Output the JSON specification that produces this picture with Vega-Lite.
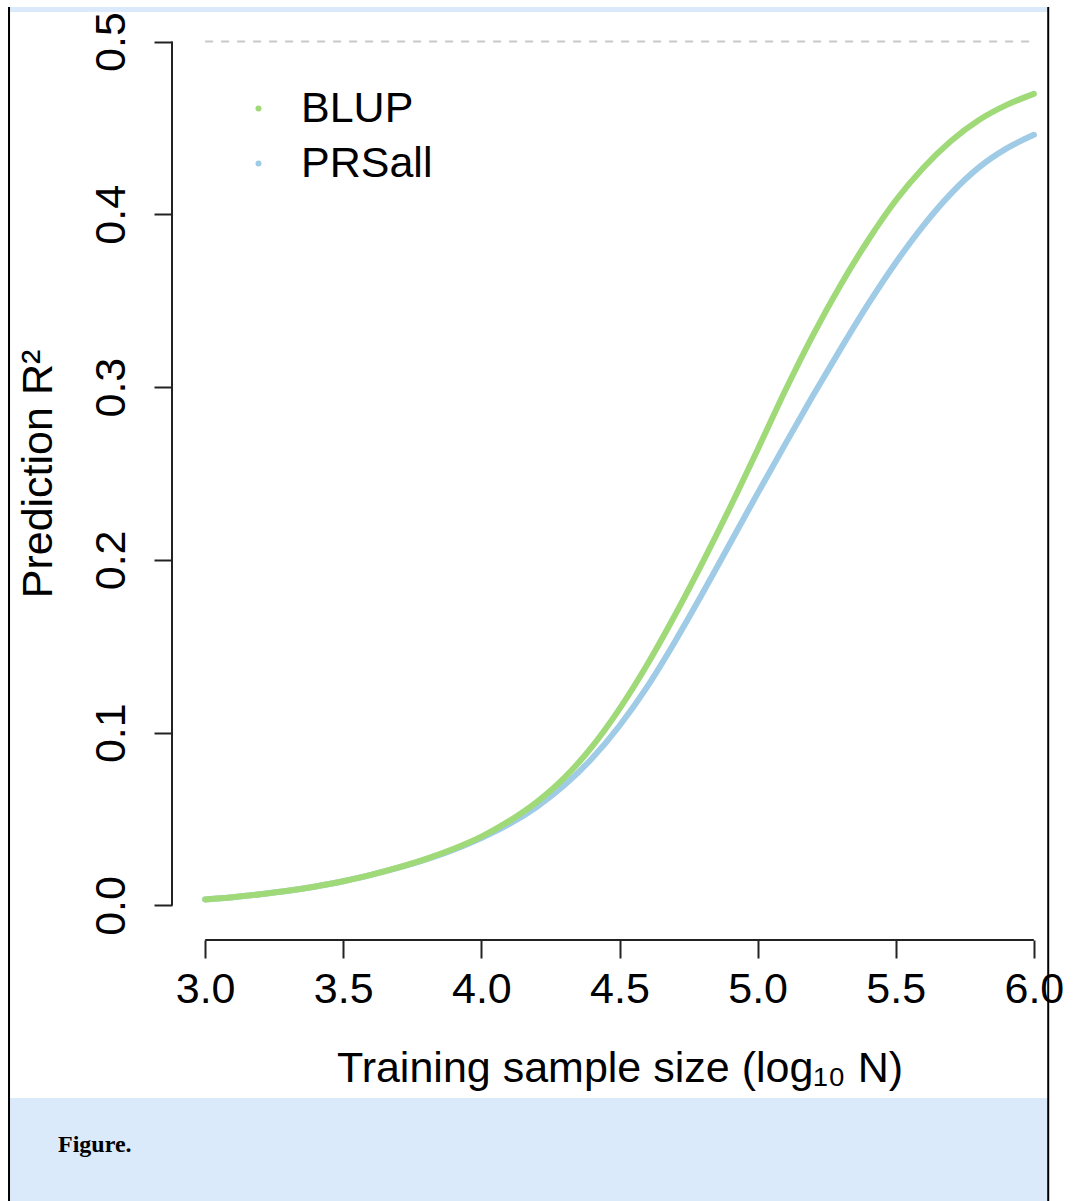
{
  "$schema": "https://vega.github.io/schema/vega-lite/v6.json",
  "width": 895,
  "height": 933,
  "autosize": {"type": "none"},
  "padding": {"left": 172, "top": 7, "right": 7, "bottom": 261},
  "background": "white",
  "config": {"view": {"stroke": null}, "font": "Liberation Sans"},
  "datasets": {
    "curves": [
      {"x": 3.0, "r2": 0.0035, "series": "PRSall"},
      {"x": 3.1, "r2": 0.0048, "series": "PRSall"},
      {"x": 3.2, "r2": 0.0065, "series": "PRSall"},
      {"x": 3.3, "r2": 0.0085, "series": "PRSall"},
      {"x": 3.4, "r2": 0.011, "series": "PRSall"},
      {"x": 3.5, "r2": 0.014, "series": "PRSall"},
      {"x": 3.6, "r2": 0.0177, "series": "PRSall"},
      {"x": 3.7, "r2": 0.0219, "series": "PRSall"},
      {"x": 3.8, "r2": 0.0267, "series": "PRSall"},
      {"x": 3.9, "r2": 0.0323, "series": "PRSall"},
      {"x": 4.0, "r2": 0.039, "series": "PRSall"},
      {"x": 4.1, "r2": 0.047, "series": "PRSall"},
      {"x": 4.2, "r2": 0.057, "series": "PRSall"},
      {"x": 4.3, "r2": 0.0695, "series": "PRSall"},
      {"x": 4.4, "r2": 0.085, "series": "PRSall"},
      {"x": 4.5, "r2": 0.104, "series": "PRSall"},
      {"x": 4.6, "r2": 0.1265, "series": "PRSall"},
      {"x": 4.7, "r2": 0.1525, "series": "PRSall"},
      {"x": 4.8, "r2": 0.1805, "series": "PRSall"},
      {"x": 4.9, "r2": 0.2095, "series": "PRSall"},
      {"x": 5.0, "r2": 0.2385, "series": "PRSall"},
      {"x": 5.1, "r2": 0.267, "series": "PRSall"},
      {"x": 5.2, "r2": 0.295, "series": "PRSall"},
      {"x": 5.3, "r2": 0.322, "series": "PRSall"},
      {"x": 5.4, "r2": 0.348, "series": "PRSall"},
      {"x": 5.5, "r2": 0.372, "series": "PRSall"},
      {"x": 5.6, "r2": 0.3935, "series": "PRSall"},
      {"x": 5.7, "r2": 0.412, "series": "PRSall"},
      {"x": 5.8, "r2": 0.427, "series": "PRSall"},
      {"x": 5.9, "r2": 0.438, "series": "PRSall"},
      {"x": 6.0, "r2": 0.446, "series": "PRSall"},
      {"x": 3.0, "r2": 0.0035, "series": "BLUP"},
      {"x": 3.1, "r2": 0.0048, "series": "BLUP"},
      {"x": 3.2, "r2": 0.0065, "series": "BLUP"},
      {"x": 3.3, "r2": 0.0085, "series": "BLUP"},
      {"x": 3.4, "r2": 0.011, "series": "BLUP"},
      {"x": 3.5, "r2": 0.014, "series": "BLUP"},
      {"x": 3.6, "r2": 0.0177, "series": "BLUP"},
      {"x": 3.7, "r2": 0.022, "series": "BLUP"},
      {"x": 3.8, "r2": 0.027, "series": "BLUP"},
      {"x": 3.9, "r2": 0.0328, "series": "BLUP"},
      {"x": 4.0, "r2": 0.0398, "series": "BLUP"},
      {"x": 4.1, "r2": 0.0488, "series": "BLUP"},
      {"x": 4.2, "r2": 0.0598, "series": "BLUP"},
      {"x": 4.3, "r2": 0.0738, "series": "BLUP"},
      {"x": 4.4, "r2": 0.0918, "series": "BLUP"},
      {"x": 4.5, "r2": 0.1138, "series": "BLUP"},
      {"x": 4.6, "r2": 0.1393, "series": "BLUP"},
      {"x": 4.7, "r2": 0.1678, "series": "BLUP"},
      {"x": 4.8, "r2": 0.1983, "series": "BLUP"},
      {"x": 4.9, "r2": 0.2303, "series": "BLUP"},
      {"x": 5.0, "r2": 0.2638, "series": "BLUP"},
      {"x": 5.1, "r2": 0.298, "series": "BLUP"},
      {"x": 5.2, "r2": 0.330, "series": "BLUP"},
      {"x": 5.3, "r2": 0.359, "series": "BLUP"},
      {"x": 5.4, "r2": 0.385, "series": "BLUP"},
      {"x": 5.5, "r2": 0.408, "series": "BLUP"},
      {"x": 5.6, "r2": 0.427, "series": "BLUP"},
      {"x": 5.7, "r2": 0.4425, "series": "BLUP"},
      {"x": 5.8, "r2": 0.4545, "series": "BLUP"},
      {"x": 5.9, "r2": 0.4632, "series": "BLUP"},
      {"x": 6.0, "r2": 0.4697, "series": "BLUP"}
    ]
  },
  "layer": [
    {
      "data": {"values": [{"band": "top"}]},
      "mark": {"type": "rect", "color": "#dbeafb"},
      "encoding": {
        "x": {"datum": 2.29, "type": "quantitative", "scale": {"domain": [2.88, 6.12], "nice": false, "zero": false}},
        "x2": {"datum": 6.052},
        "y": {"datum": 0.52, "type": "quantitative", "scale": {"domain": [-0.02, 0.52], "nice": false, "zero": false}},
        "y2": {"datum": 0.5171}
      }
    },
    {
      "data": {"values": [{"band": "bottom"}]},
      "mark": {"type": "rect", "color": "#dbeafb"},
      "encoding": {
        "x": {"datum": 2.29, "type": "quantitative", "scale": {"domain": [2.88, 6.12], "nice": false, "zero": false}},
        "x2": {"datum": 6.052},
        "y": {"datum": -0.1115, "type": "quantitative", "scale": {"domain": [-0.02, 0.52], "nice": false, "zero": false}},
        "y2": {"datum": -0.18}
      }
    },
    {
      "data": {"values": [{"caption": "Figure."}]},
      "mark": {"type": "text", "font": "Liberation Serif", "fontWeight": "bold", "fontSize": 24, "color": "black", "align": "left", "baseline": "alphabetic"},
      "encoding": {
        "text": {"field": "caption"},
        "x": {"datum": 2.4673, "type": "quantitative", "scale": {"domain": [2.88, 6.12], "nice": false, "zero": false}},
        "y": {"datum": -0.1427, "type": "quantitative", "scale": {"domain": [-0.02, 0.52], "nice": false, "zero": false}}
      }
    },
    {
      "data": {"values": [{"edge": 2.29}, {"edge": 6.052}]},
      "mark": {"type": "rule", "color": "black", "strokeWidth": 2},
      "encoding": {
        "x": {"field": "edge", "type": "quantitative", "scale": {"domain": [2.88, 6.12], "nice": false, "zero": false}},
        "y": {"datum": 0.52, "type": "quantitative", "scale": {"domain": [-0.02, 0.52], "nice": false, "zero": false}},
        "y2": {"datum": -0.18}
      }
    },
    {
      "data": {"values": [{"h2": 0.5}]},
      "mark": {"type": "rule", "color": "#c8c8c8", "strokeWidth": 2, "strokeDash": [8, 8]},
      "encoding": {
        "x": {"datum": 3, "type": "quantitative", "scale": {"domain": [2.88, 6.12], "nice": false, "zero": false}},
        "x2": {"datum": 6},
        "y": {"field": "h2", "type": "quantitative", "scale": {"domain": [-0.02, 0.52], "nice": false, "zero": false}}
      }
    },
    {
      "data": {"values": [{"axis": "x"}]},
      "mark": {"type": "rule", "color": "#222222", "strokeWidth": 2},
      "encoding": {
        "x": {"datum": 3, "type": "quantitative", "scale": {"domain": [2.88, 6.12], "nice": false, "zero": false}},
        "x2": {"datum": 6},
        "y": {"datum": -0.02, "type": "quantitative", "scale": {"domain": [-0.02, 0.52], "nice": false, "zero": false}}
      }
    },
    {
      "data": {"values": [{"axis": "y"}]},
      "mark": {"type": "rule", "color": "#222222", "strokeWidth": 2},
      "encoding": {
        "x": {"datum": 2.88, "type": "quantitative", "scale": {"domain": [2.88, 6.12], "nice": false, "zero": false}},
        "y": {"datum": 0, "type": "quantitative", "scale": {"domain": [-0.02, 0.52], "nice": false, "zero": false}},
        "y2": {"datum": 0.5}
      }
    },
    {
      "data": {"name": "curves"},
      "mark": {"type": "line", "strokeWidth": 6, "interpolate": "monotone", "strokeCap": "round"},
      "encoding": {
        "x": {
          "field": "x", "type": "quantitative",
          "scale": {"domain": [2.88, 6.12], "nice": false, "zero": false},
          "axis": {
            "values": [3, 3.5, 4, 4.5, 5, 5.5, 6], "format": ".1f",
            "domain": false, "grid": false,
            "tickSize": 18, "tickWidth": 2, "tickColor": "#222222",
            "labelFontSize": 43, "labelPadding": 10, "labelColor": "black", "labelFont": "Liberation Sans",
            "labelFlush": false, "labelOverlap": false, "labelBound": false,
            "title": "Training sample size (log₁₀ N)",
            "titleFontSize": 43, "titleFontWeight": "normal", "titleColor": "black", "titleFont": "Liberation Sans",
            "titlePadding": 36
          }
        },
        "y": {
          "field": "r2", "type": "quantitative",
          "scale": {"domain": [-0.02, 0.52], "nice": false, "zero": false},
          "axis": {
            "values": [0, 0.1, 0.2, 0.3, 0.4, 0.5], "format": ".1f",
            "domain": false, "grid": false,
            "tickSize": 18, "tickWidth": 2, "tickColor": "#222222",
            "labelAngle": -90, "labelFontSize": 43, "labelPadding": 21, "labelColor": "black", "labelFont": "Liberation Sans",
            "labelFlush": false, "labelOverlap": false, "labelBound": false,
            "title": "Prediction R²",
            "titleFontSize": 43, "titleFontWeight": "normal", "titleColor": "black", "titleFont": "Liberation Sans",
            "titlePadding": 30
          }
        },
        "color": {
          "field": "series", "type": "nominal",
          "scale": {"domain": ["BLUP", "PRSall"], "range": ["#a0da78", "#9fcbe6"]},
          "legend": {
            "title": null, "orient": "none", "legendX": 65, "legendY": 80,
            "symbolType": "circle", "symbolSize": 36, "symbolStrokeWidth": 0,
            "labelFontSize": 43, "labelColor": "black", "labelFont": "Liberation Sans",
            "labelOffset": 21, "rowPadding": 11, "padding": 0,
            "encode": {"symbols": {"update": {"fill": {"scale": "color", "field": "value"}, "fillOpacity": {"value": 1}}}}
          }
        }
      }
    }
  ]
}
